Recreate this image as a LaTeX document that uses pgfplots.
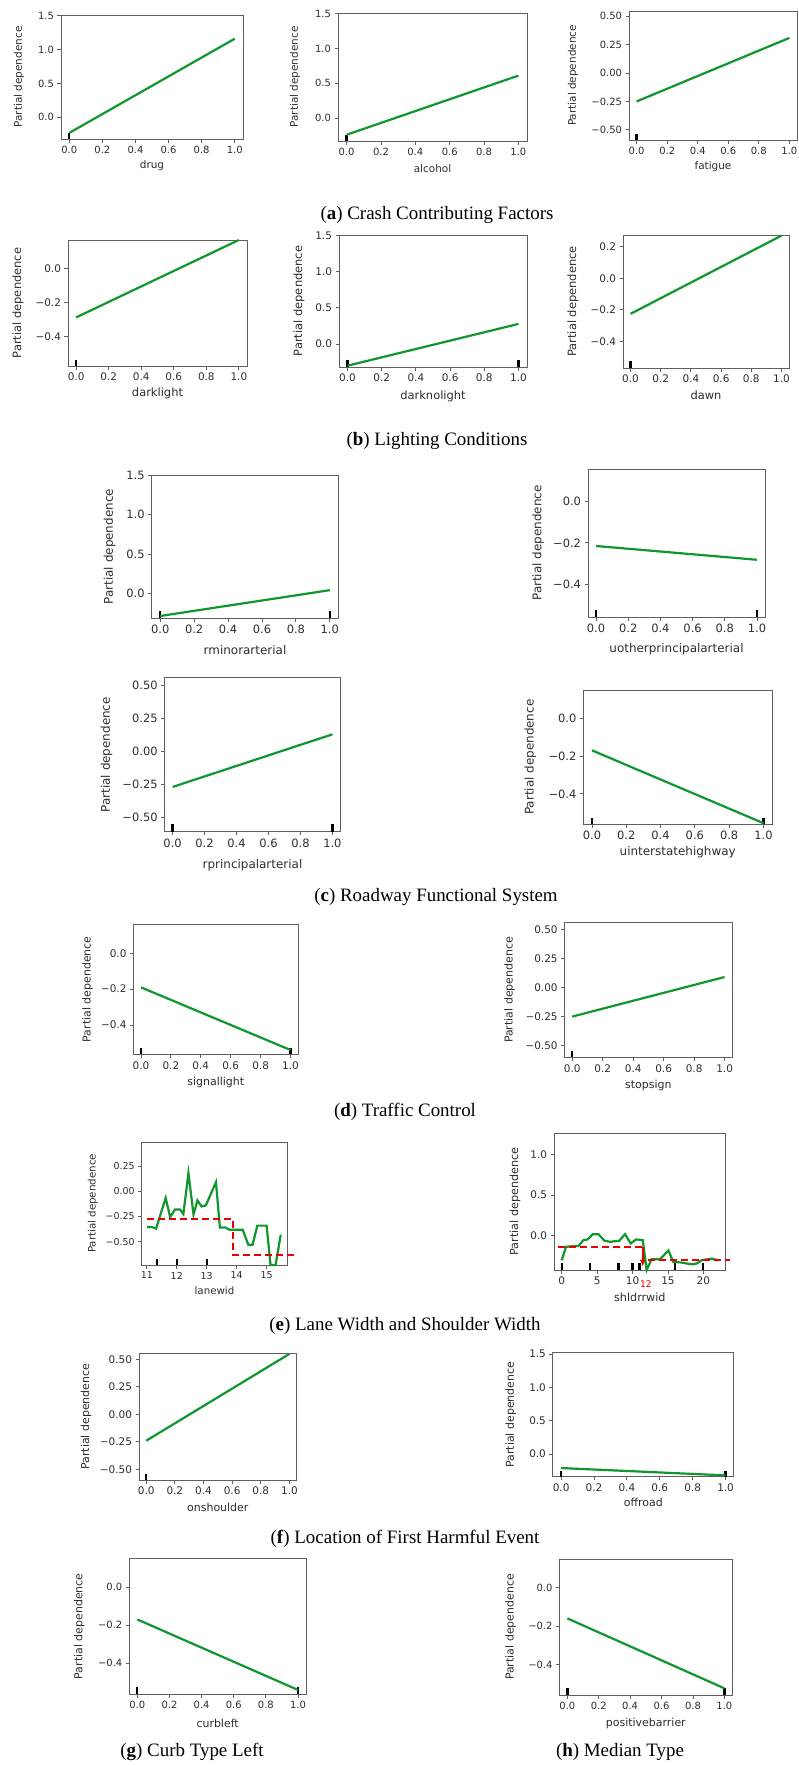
\documentclass[border=0pt]{standalone}
\usepackage{pgfplots}
\pgfplotsset{compat=1.18}
\usetikzlibrary{arrows.meta}
\usepackage{fontspec}
\setmainfont{DejaVu Sans}
\newfontfamily\capfont{Liberation Serif}
\definecolor{pdgreen}{RGB}{15,150,45}
\definecolor{spine}{RGB}{95,95,95}
\definecolor{tickc}{RGB}{45,45,45}
\definecolor{pdred}{RGB}{235,0,0}
\pgfplotsset{
 pd/.style={scale only axis, anchor=south west,
   axis line style={draw=spine, line width=0.85bp},
   tick align=outside, tick pos=left,
   major tick length=3.5bp,
   every tick/.append style={draw=spine, line width=0.85bp},
   tick label style={text=tickc},
   label style={text=tickc},
   ylabel={Partial dependence},
   /pgf/number format/assume math mode=true},
 fs/.style 2 args={tick label style={font=\fontsize{#1}{#1}\selectfont}, label style={font=\fontsize{#2}{#2}\selectfont}},
 xl/.style={xlabel style={at={([yshift=-#1bp]axis description cs:0.5,0)}, anchor=center}},
 yl/.style={ylabel style={at={([xshift=-#1bp]axis description cs:0,0.5)}, anchor=center}},
 bin/.style={xmin=-0.05, xmax=1.05, xtick={0,0.2,0.4,0.6,0.8,1}, xticklabels={0.0,0.2,0.4,0.6,0.8,1.0}},
 yA/.style={ytick={0,0.5,1,1.5}, yticklabels={0.0,0.5,1.0,1.5}},
 yB/.style={ytick={-0.5,-0.25,0,0.25,0.5}, yticklabels={−0.50,−0.25,0.00,0.25,0.50}},
 yC/.style={ytick={-0.4,-0.2,0}, yticklabels={−0.4,−0.2,0.0}},
 yD/.style={ytick={-0.4,-0.2,0,0.2}, yticklabels={−0.4,−0.2,0.0,0.2}},
 pdl/.style={pdgreen, line width=2.2bp},
 rug/.style={black, line width=2.3bp},
 pdr/.style={pdred, line width=2.2bp, dash pattern=on 7bp off 4bp},
}
\newcommand{\figcap}[3]{\node[font=\capfont\fontsize{19}{19}\selectfont, anchor=center] at (#1bp,-#2bp) {#3};}
\begin{document}
\begin{tikzpicture}
\useasboundingbox (0,0) rectangle (799bp,-1765bp);
% ---------------- (a)
\begin{axis}[pd, bin, yA, fs={10}{10.5}, at={(61bp,-139bp)}, width=182bp, height=124bp, ymin=-0.32, ymax=1.51, xlabel={drug}, xl=27, yl=42]
\addplot[rug] coordinates {(0,-0.32) (0,-0.228)};
\addplot[pdl] coordinates {(0,-0.23) (1,1.16)};
\end{axis}
\begin{axis}[pd, bin, yA, fs={10}{10.5}, at={(338bp,-141bp)}, width=189bp, height=128bp, ymin=-0.33, ymax=1.51, xlabel={alcohol}, xl=28, yl=43]
\addplot[rug] coordinates {(0,-0.33) (0,-0.238)};
\addplot[pdl] coordinates {(0,-0.24) (1,0.61)};
\end{axis}
\begin{axis}[pd, bin, yB, fs={10}{10.5}, at={(629bp,-140bp)}, width=168bp, height=129bp, ymin=-0.59, ymax=0.547, xlabel={fatigue}, xl=27, yl=56]
\addplot[rug] coordinates {(0,-0.59) (0,-0.533)};
\addplot[pdl] coordinates {(0,-0.25) (1,0.31)};
\end{axis}
\figcap{437}{215}{(\textbf{a}) Crash Contributing Factors}
% ---------------- (b)
\begin{axis}[pd, bin, yC, fs={10.5}{11.5}, at={(68bp,-366bp)}, width=179bp, height=126bp, ymin=-0.571, ymax=0.165, xlabel={darklight}, xl=27, yl=50]
\addplot[rug] coordinates {(0,-0.571) (0,-0.534)};
\addplot[pdl] coordinates {(0,-0.287) (1,0.165)};
\end{axis}
\begin{axis}[pd, bin, yA, fs={10.5}{11.5}, at={(339bp,-367bp)}, width=188bp, height=132bp, ymin=-0.318, ymax=1.505, xlabel={darknolight}, xl=29, yl=40]
\addplot[rug] coordinates {(0,-0.318) (0,-0.227)};
\addplot[rug] coordinates {(1,-0.318) (1,-0.227)};
\addplot[pdl] coordinates {(0,-0.30) (1,0.277)};
\end{axis}
\begin{axis}[pd, bin, yD, fs={10.5}{11.5}, at={(623bp,-368bp)}, width=166bp, height=133bp, ymin=-0.568, ymax=0.274, xlabel={dawn}, xl=27, yl=50]
\addplot[rug] coordinates {(0,-0.568) (0,-0.526)};
\addplot[pdl] coordinates {(0,-0.225) (1,0.27)};
\end{axis}
\figcap{437}{441}{(\textbf{b}) Lighting Conditions}
% ---------------- (c)
\begin{axis}[pd, bin, yA, fs={11.5}{12}, at={(151.7bp,-618.3bp)}, width=186.6bp, height=143.3bp, ymin=-0.313, ymax=1.5, xlabel={rminorarterial}, xl=32, yl=42]
\addplot[rug] coordinates {(0,-0.313) (0,-0.222)};
\addplot[rug] coordinates {(1,-0.313) (1,-0.222)};
\addplot[pdl] coordinates {(0,-0.284) (1,0.043)};
\end{axis}
\begin{axis}[pd, bin, yC, fs={11.5}{12}, at={(588bp,-617bp)}, width=177bp, height=148bp, ymin=-0.56, ymax=0.159, xlabel={uotherprincipalarterial}, xl=32, yl=50]
\addplot[rug] coordinates {(0,-0.56) (0,-0.524)};
\addplot[rug] coordinates {(1,-0.56) (1,-0.524)};
\addplot[pdl] coordinates {(0,-0.215) (1,-0.282)};
\end{axis}
\begin{axis}[pd, bin, yB, fs={11.5}{12}, at={(164.6bp,-831.7bp)}, width=175.8bp, height=154bp, ymin=-0.61, ymax=0.56, xlabel={rprincipalarterial}, xl=33, yl=58]
\addplot[rug] coordinates {(0,-0.61) (0,-0.5515)};
\addplot[rug] coordinates {(1,-0.61) (1,-0.5515)};
\addplot[pdl] coordinates {(0,-0.27) (1,0.13)};
\end{axis}
\begin{axis}[pd, bin, yC, fs={11.5}{12}, at={(583.4bp,-824.3bp)}, width=188.6bp, height=134.3bp, ymin=-0.561, ymax=0.149, xlabel={uinterstatehighway}, xl=28, yl=53]
\addplot[rug] coordinates {(0,-0.561) (0,-0.5255)};
\addplot[rug] coordinates {(1,-0.561) (1,-0.5255)};
\addplot[pdl] coordinates {(0,-0.17) (1,-0.555)};
\end{axis}
\figcap{436}{897}{(\textbf{c}) Roadway Functional System}
% ---------------- (d)
\begin{axis}[pd, bin, yC, fs={10.5}{11}, at={(133.5bp,-1054.3bp)}, width=164.5bp, height=130bp, ymin=-0.564, ymax=0.162, xlabel={signallight}, xl=28, yl=46]
\addplot[rug] coordinates {(0,-0.564) (0,-0.528)};
\addplot[rug] coordinates {(1,-0.564) (1,-0.528)};
\addplot[pdl] coordinates {(0,-0.19) (1,-0.54)};
\end{axis}
\begin{axis}[pd, bin, yB, fs={10.5}{11}, at={(564.6bp,-1057.3bp)}, width=167.6bp, height=134.6bp, ymin=-0.60, ymax=0.557, xlabel={stopsign}, xl=28, yl=55]
\addplot[rug] coordinates {(0,-0.60) (0,-0.542)};
\addplot[pdl] coordinates {(0,-0.25) (1,0.09)};
\end{axis}
\figcap{405}{1112}{(\textbf{d}) Traffic Control}
% ---------------- (e)
\begin{axis}[pd, fs={9.5}{10.3}, at={(141.7bp,-1265bp)}, width=145.6bp, height=123bp, clip=false,
  xmin=10.83, xmax=15.69, xtick={11,12,13,14,15}, xticklabels={11,12,13,14,15},
  ytick={-0.5,-0.25,0,0.25}, yticklabels={−0.50,−0.25,0.00,0.25},
  ymin=-0.73, ymax=0.488, xlabel={lanewid}, xl=26, yl=49]
\addplot[rug] coordinates {(11.33,-0.73) (11.33,-0.669)};
\addplot[rug] coordinates {(12.0,-0.73) (12.0,-0.669)};
\addplot[rug] coordinates {(13.0,-0.73) (13.0,-0.669)};
\addplot[pdl] coordinates {(11.0,-0.354) (11.17,-0.354) (11.31,-0.37) (11.63,-0.066) (11.78,-0.255) (11.94,-0.18) (12.11,-0.18) (12.22,-0.225) (12.39,0.18) (12.56,-0.23) (12.69,-0.09) (12.83,-0.15) (12.97,-0.14) (13.31,0.09) (13.44,-0.36) (13.61,-0.357) (13.76,-0.38) (14.2,-0.38) (14.39,-0.53) (14.53,-0.53) (14.69,-0.34) (15.0,-0.34) (15.13,-0.73) (15.3,-0.73) (15.47,-0.43)};
\addplot[pdr] coordinates {(11.0,-0.275) (13.87,-0.275) (13.87,-0.63) (15.97,-0.63)};
\end{axis}
\begin{axis}[pd, fs={10.5}{11.2}, at={(554bp,-1270bp)}, width=171.7bp, height=136.7bp, clip=false,
  xmin=-1.09, xmax=23.16, xtick={0,5,10,15,20}, xticklabels={0,5,10,15,20},
  ytick={0,0.5,1}, yticklabels={0.0,0.5,1.0},
  ymin=-0.42, ymax=1.258, xlabel={shldrrwid}, xl=27, yl=39]
\addplot[rug] coordinates {(0,-0.42) (0,-0.336)};
\addplot[rug] coordinates {(4,-0.42) (4,-0.336)};
\addplot[rug] coordinates {(8,-0.42) (8,-0.336)};
\addplot[rug] coordinates {(10,-0.42) (10,-0.336)};
\addplot[rug] coordinates {(11,-0.42) (11,-0.336)};
\addplot[rug] coordinates {(16,-0.42) (16,-0.336)};
\addplot[rug] coordinates {(20,-0.42) (20,-0.336)};
\addplot[pdl] coordinates {(0,-0.30) (0.61,-0.135) (1.65,-0.127) (2.35,-0.127) (3.06,-0.053) (3.67,-0.045) (4.38,0.02) (5.18,0.02) (6.02,-0.06) (6.82,-0.074) (8.14,-0.06) (8.94,0.02) (9.74,-0.094) (10.49,-0.045) (11.44,-0.053) (12.0,-0.42) (12.7,-0.287) (13.9,-0.287) (15.06,-0.18) (15.76,-0.32) (16.94,-0.328) (17.65,-0.34) (18.5,-0.35) (19.06,-0.34) (19.76,-0.30) (21.2,-0.28) (22.0,-0.30)};
\addplot[pdr] coordinates {(-0.47,-0.135) (11.44,-0.135)};
\addplot[pdred, line width=1.6bp, -{Latex[length=7bp,width=6bp]}] coordinates {(11.44,-0.135) (11.44,-0.38)};
\addplot[pdr] coordinates {(12.24,-0.30) (23.76,-0.30)};
\node[pdred, font=\fontsize{9.2}{9.2}\selectfont, anchor=center] at ([yshift=-14bp]axis cs:11.9,-0.42) {12};
\end{axis}
\figcap{405}{1326}{(\textbf{e}) Lane Width and Shoulder Width}
% ---------------- (f)
\begin{axis}[pd, bin, yB, fs={10.5}{11}, at={(139bp,-1480bp)}, width=157.6bp, height=126.7bp, ymin=-0.597, ymax=0.555, xlabel={onshoulder}, xl=27, yl=53]
\addplot[rug] coordinates {(0,-0.597) (0,-0.539)};
\addplot[pdl] coordinates {(0,-0.24) (1,0.55)};
\end{axis}
\begin{axis}[pd, bin, yA, fs={10.5}{11}, at={(552.9bp,-1476.7bp)}, width=180.9bp, height=124bp, ymin=-0.34, ymax=1.52, xlabel={offroad}, xl=26, yl=42]
\addplot[rug] coordinates {(0,-0.34) (0,-0.247)};
\addplot[rug] coordinates {(1,-0.34) (1,-0.247)};
\addplot[pdl] coordinates {(0,-0.21) (1,-0.32)};
\end{axis}
\figcap{405}{1539}{(\textbf{f}) Location of First Harmful Event}
% ---------------- (g) (h)
\begin{axis}[pd, bin, yC, fs={10}{11}, at={(129.3bp,-1694.3bp)}, width=176.7bp, height=136bp, ymin=-0.563, ymax=0.151, xlabel={curbleft}, xl=29, yl=50]
\addplot[rug] coordinates {(0,-0.563) (0,-0.527)};
\addplot[rug] coordinates {(1,-0.563) (1,-0.527)};
\addplot[pdl] coordinates {(0,-0.17) (1,-0.54)};
\end{axis}
\begin{axis}[pd, bin, yC, fs={10}{11}, at={(559.5bp,-1695bp)}, width=172.7bp, height=136bp, ymin=-0.56, ymax=0.15, xlabel={positivebarrier}, xl=28, yl=49]
\addplot[rug] coordinates {(0,-0.56) (0,-0.5245)};
\addplot[rug] coordinates {(1,-0.56) (1,-0.5245)};
\addplot[pdl] coordinates {(0,-0.16) (1,-0.525)};
\end{axis}
\figcap{192}{1752}{(\textbf{g}) Curb Type Left}
\figcap{620}{1752}{(\textbf{h}) Median Type}
\end{tikzpicture}
\end{document}
